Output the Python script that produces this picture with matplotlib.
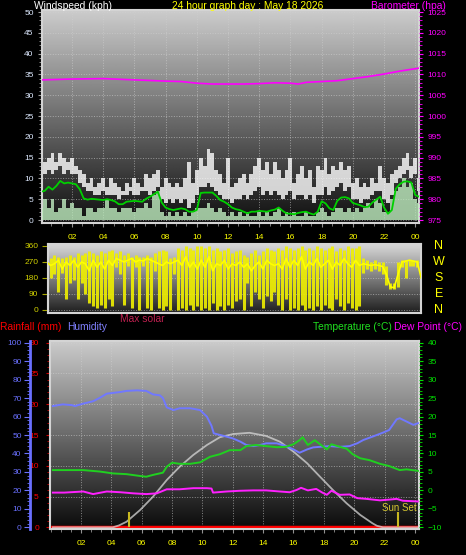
import numpy as np
import matplotlib
matplotlib.use('Agg')
import matplotlib.pyplot as plt
from matplotlib.ticker import MultipleLocator

plt.rcParams['font.family'] = ['Liberation Sans', 'DejaVu Sans']

# ---------------- data ----------------
# wind samples every 15 min (hours since 00:00)
t_wind = np.arange(0, 24.26, 0.25)

gust_hi = [13, 14, 15, 16, 14, 16, 15, 14, 15, 13,
           12, 11, 9, 10, 8, 9, 10, 8, 10, 9,
           8, 7, 9, 8, 10, 9, 8, 11, 10, 11,
           12, 8, 10, 9, 8, 9, 8, 10, 14, 9,
           12, 15, 13, 17, 16, 12, 11, 9, 15, 8,
           9, 10, 11, 9, 11, 13, 15, 12, 14, 11,
           14, 12, 10, 12, 15, 9, 11, 13, 10, 12,
           8, 13, 12, 15, 11, 13, 12, 14, 12, 13,
           9, 10, 8, 9, 8, 10, 9, 13, 10, 9,
           11, 12, 13, 15, 16, 13, 15, 10]
gust_lo = [11, 11, 12, 11, 12, 13, 11, 12, 11, 11,
           9, 8, 7, 7, 6, 6, 7, 6, 6, 6,
           5, 6, 6, 7, 6, 6, 7, 7, 6, 7,
           8, 5, 4, 5, 4, 5, 4, 5, 3, 4,
           6, 8, 8, 9, 8, 7, 6, 5, 5, 4,
           5, 5, 6, 5, 6, 7, 8, 6, 7, 6,
           7, 6, 5, 6, 7, 5, 6, 6, 5, 6,
           4, 6, 6, 8, 6, 7, 8, 9, 7, 8,
           5, 5, 4, 5, 5, 6, 7, 7, 5, 4,
           6, 9, 10, 11, 12, 10, 11, 7]
wind_speed = [3, 5, 3, 5, 2, 3, 5, 3, 4, 3,
              3, 1, 3, 3, 2, 3, 3, 5, 3, 3,
              2, 3, 3, 3, 2, 3, 3, 4, 3, 6,
              7, 2, 1, 2, 1, 2, 1, 2, 1, 2,
              3, 3, 3, 4, 3, 2, 3, 2, 1, 2,
              1, 2, 1, 2, 1, 1, 2, 1, 2, 1,
              2, 3, 1, 2, 1, 2, 1, 1, 2, 1,
              1, 2, 3, 2, 1, 2, 3, 3, 2, 3,
              2, 3, 2, 3, 4, 3, 5, 4, 2, 2,
              5, 7, 8, 10, 8, 9, 5, 4]
wind_avg = [6.8, 7.0, 8.0, 7.3, 8.2, 9.4, 8.8, 9.0, 8.8, 8.6,
            7.4, 5.2, 4.9, 5.1, 5.0, 4.9, 4.8, 5.0, 4.8, 4.5,
            3.8, 3.8, 4.4, 4.5, 4.6, 4.5, 4.4, 5.1, 5.6, 6.2,
            6.8, 4.2, 3.0, 2.6, 2.4, 2.6, 2.8, 2.6, 2.0, 2.0,
            2.4, 6.5, 6.6, 6.6, 6.6, 5.8, 4.8, 4.4, 3.8, 3.0,
            2.6, 2.4, 2.0, 1.6, 2.0, 2.0, 2.2, 2.1, 2.0, 2.3,
            2.5, 3.0, 2.2, 1.6, 1.5, 1.4, 1.7, 1.9, 2.0, 1.6,
            1.3, 2.0, 4.5, 4.0, 2.8, 2.4, 4.6, 5.4, 5.5, 5.2,
            4.1, 3.8, 3.5, 3.1, 3.2, 4.2, 4.9, 5.6, 3.0, 1.5,
            2.4, 7.5, 8.6, 9.2, 9.3, 9.0, 6.0, 5.6]

# wind direction (deg), spread per 15 min
dir_lo = [130, 180, 200, 100, 210, 60, 150, 170, 60, 150,
          90, 40, 20, 10, 30, 10, 60, 20, 240, 200,
          30, 250, 10, 240, 0, 250, 10, 0, 220, 10,
          0, 20, 0, 200, 0, 10, 0, 30, 0, 20,
          0, 10, 0, 40, 0, 20, 0, 30, 10, 50,
          60, 0, 150, 20, 100, 60, 10, 80, 50, 100,
          30, 0, 60, 0, 10, 0, 30, 0, 10, 0,
          20, 0, 30, 10, 0, 60, 20, 0, 40, 10,
          0, 20, 210, 230, 220, 230, 220, 200, 140, 120,
          120, 130, 240, 180, 250, 250, 240, 130]
dir_hi = [300, 290, 310, 300, 290, 300, 310, 300, 320, 310,
          320, 330, 320, 310, 330, 320, 330, 340, 320, 330,
          310, 320, 300, 310, 300, 300, 310, 300, 320, 330,
          340, 330, 290, 300, 350, 340, 360, 350, 340, 360,
          360, 350, 360, 340, 350, 330, 340, 350, 320, 330,
          340, 310, 300, 320, 340, 310, 330, 350, 340, 330,
          350, 340, 360, 350, 340, 350, 360, 340, 350, 340,
          360, 350, 340, 350, 360, 330, 350, 340, 360, 350,
          350, 360, 290, 280, 270, 280, 270, 270, 250, 150,
          150, 270, 280, 280, 280, 280, 280, 270]
dir_mid = [270, 250, 260, 280, 230, 270, 250, 280, 240, 270,
           260, 220, 280, 240, 270, 230, 280, 250, 290, 280,
           270, 280, 290, 270, 280, 275, 290, 280, 270, 260,
           250, 270, 260, 270, 280, 250, 300, 240, 270, 230,
           280, 240, 300, 220, 260, 250, 280, 230, 260, 250,
           270, 240, 260, 220, 250, 270, 230, 280, 260, 250,
           260, 230, 290, 240, 280, 250, 300, 230, 270, 250,
           290, 240, 260, 280, 230, 270, 250, 290, 260, 240,
           280, 250, 260, 255, 250, 255, 250, 245, 200, 130,
           125, 200, 270, 275, 280, 275, 270, 180]

baro_t = [0.1, 2, 4, 6, 8, 9, 10, 11, 12, 13, 14, 15, 16, 16.5, 17, 18, 19, 20, 21, 22, 23, 24.2]
baro = [1008.7, 1008.9, 1009.0, 1008.7, 1008.4, 1008.3, 1007.9, 1007.7, 1007.7, 1007.7, 1007.8,
        1008.0, 1007.9, 1007.7, 1008.1, 1008.3, 1008.5, 1009.0, 1009.5, 1010.1, 1010.8, 1011.5]

hum_t = [0.15, 0.8, 1.4, 1.6, 2.15, 2.8, 3.25, 3.7, 4.1, 4.6, 5.0, 5.7, 6.3, 6.75, 7.2, 7.4, 7.65,
         8.1, 8.5, 9.2, 9.85, 10.3, 10.6, 10.75, 11.6, 12.0, 12.5, 12.9, 13.35, 13.8, 14.2, 14.9,
         15.5, 16.0, 16.4, 16.9, 17.3, 17.75, 18.4, 19.05, 19.7, 20.2, 20.6, 21.2, 21.9, 22.3,
         22.8, 23.0, 23.45, 23.9, 24.2]
humidity = [65.7, 66.6, 66.2, 65.7, 67.0, 68.3, 70.2, 72.4, 72.8, 73.3, 73.9, 74.2, 73.9, 72.0,
            71.5, 70.0, 65.0, 63.5, 64.5, 64.5, 63.5, 59.9, 55.0, 50.9, 49.1, 48.2, 46.4, 44.6,
            44.0, 44.6, 45.5, 45.5, 44.0, 42.2, 40.4, 42.2, 43.3, 43.6, 44.0, 43.6, 44.0, 45.5,
            47.3, 49.1, 51.3, 52.7, 58.5, 59.1, 57.3, 55.5, 56.4]

temp_t = [0.15, 0.9, 2.15, 3.25, 4.1, 5.0, 5.9, 6.3, 6.75, 7.4, 7.65, 8.0, 8.5, 9.2, 9.85, 10.5,
          11.15, 11.8, 12.5, 12.9, 13.55, 14.2, 14.9, 15.5, 16.0, 16.4, 16.6, 16.95, 17.4, 17.75,
          18.2, 18.5, 19.05, 19.5, 19.9, 20.4, 21.0, 21.7, 22.3, 23.0, 23.45, 24.2]
temperature = [5.5, 5.5, 5.5, 5.1, 4.6, 4.4, 3.9, 3.7, 4.2, 4.8, 6.4, 7.5, 7.2, 7.2, 7.6, 9.1,
               9.8, 10.9, 10.9, 12.0, 12.3, 12.0, 11.7, 11.8, 12.5, 13.6, 14.4, 12.3, 13.6, 12.5,
               11.1, 12.5, 11.8, 11.3, 9.8, 8.7, 8.2, 7.2, 6.6, 5.5, 5.7, 5.3]

dew_t = [0.15, 0.9, 2.15, 2.8, 3.7, 4.6, 5.45, 6.3, 7.0, 7.65, 8.5, 9.4, 10.3, 10.6, 10.7, 11.6,
         12.5, 13.35, 14.2, 15.1, 15.75, 16.2, 16.5, 16.95, 17.5, 17.9, 18.2, 18.5, 19.05, 19.7,
         20.2, 20.8, 21.7, 22.3, 22.8, 23.2, 24.2]
dewpoint = [-0.6, -0.6, -0.3, -1.0, -0.3, -0.5, -0.8, -1.0, -0.8, 0.3, 0.3, 0.6, 0.6, 0.5, -0.6,
            -0.3, -0.1, 0.0, 0.0, -0.3, -0.5, 0.1, 0.7, 0.0, 0.4, -0.6, -1.2, -0.1, -1.2, -1.1,
            -2.1, -2.3, -2.7, -2.5, -2.3, -2.8, -3.0]

# max solar, drawn on the humidity scale
solar_t = [0.15, 4.1, 4.5, 5.0, 5.9, 6.75, 7.65, 8.5, 9.4, 10.3, 11.15, 12.0, 13.1, 14.2, 15.1,
           16.0, 16.9, 17.75, 18.6, 19.5, 20.4, 21.2, 21.5, 21.9, 24.2]
max_solar = [0, 0, 1, 3, 9.4, 16.6, 25.6, 32.8, 39.2, 44.6, 48.8, 50.5, 51.2, 49.5, 46.4,
             41.0, 34.7, 27.4, 20.2, 13.0, 6.7, 2.2, 0.8, 0, 0]

rain_t = [0.0, 24.25]
rain = [0.0, 0.0]

sunrise = 5.16
sunset = 22.87

hour_ticks = list(range(2, 25, 2))
hour_labels = ['%02d' % (h % 24) for h in hour_ticks]

# ---------------- figure ----------------
W, H = 466, 555
fig = plt.figure(figsize=(W / 100, H / 100), dpi=100, facecolor='black')


def box(l, t, r, b):
    return [l / W, 1 - b / H, (r - l) / W, (b - t) / H]


def background(ax, top, bottom):
    g = np.linspace(top, bottom, 256).reshape(-1, 1)
    ax.imshow(g, cmap='gray', vmin=0, vmax=1, aspect='auto', extent=[0, 1, 0, 1],
              transform=ax.transAxes, zorder=0, interpolation='bilinear')


def frame(ax):
    for s in ax.spines.values():
        s.set_color('#d4d4d4')
        s.set_linewidth(1.5)


# ---- panel 1 : wind speed + barometer ----
ax1 = fig.add_axes(box(42, 10, 419, 223))
background(ax1, 0.80, 0.06)
ax1.fill_between(t_wind, gust_lo, gust_hi, step='mid', color='white', alpha=0.8, lw=0, zorder=2)
ax1.fill_between(t_wind, 0, wind_speed, step='mid', color='#c0eec0', alpha=0.8, lw=0, zorder=3)
ax1.plot(t_wind, wind_avg, color='#00d000', lw=1.3, zorder=4)
ax1.set_xlim(0.08, 24.24)
ax1.set_ylim(-0.72, 50.5)
ax1.set_xticks(hour_ticks)
ax1.set_xticklabels(hour_labels)
ax1.xaxis.set_minor_locator(MultipleLocator(2 / 3))
ax1.yaxis.set_major_locator(MultipleLocator(5))
ax1.yaxis.set_minor_locator(MultipleLocator(1))
ax1.grid(True, color='#d0d0d0', ls=':', lw=0.7, alpha=0.6, zorder=1)
ax1.tick_params(axis='y', which='both', colors='#a0a0a0', labelcolor='#dde9ff', labelsize=6, length=3, pad=3)
ax1.tick_params(axis='y', which='minor', length=2)
ax1.tick_params(axis='x', which='both', colors='#909090', labelcolor='yellow', labelsize=6, length=3, pad=5)
ax1.tick_params(axis='x', which='minor', length=2)
frame(ax1)

ax1b = ax1.twinx()
ax1b.plot(baro_t, baro, color='#ff00ff', lw=1.2)
ax1b.set_ylim(974.28, 1025.5)
ax1b.yaxis.set_major_locator(MultipleLocator(5))
ax1b.yaxis.set_minor_locator(MultipleLocator(1))
ax1b.tick_params(axis='y', which='both', colors='#ff00ff', labelcolor='#ff00ff', labelsize=6, length=3, pad=3)
ax1b.tick_params(axis='y', which='minor', length=2)
for s in ax1b.spines.values():
    s.set_visible(False)

# ---- panel 2 : wind direction ----
ax2 = fig.add_axes(box(48, 244, 421, 313))
background(ax2, 0.85, 0.12)
ax2.vlines(t_wind, dir_lo, dir_hi, color='#f0f000', lw=2.2, alpha=0.9, zorder=2)
ax2.plot(t_wind, dir_mid, color='yellow', lw=1.2, zorder=3)
ax2.set_xlim(0.08, 24.24)
ax2.set_ylim(-17, 371)
ax2.set_yticks([0, 90, 180, 270, 360])
ax2.set_xticks([])
ax2.grid(True, axis='y', color='#d0d0d0', ls=':', lw=0.7, alpha=0.6, zorder=1)
ax2.tick_params(axis='y', colors='#a8a800', labelcolor='#d0d000', labelsize=6, length=4, pad=3)
frame(ax2)
for val, letter in zip([360, 270, 180, 90, 0], 'NWSEN'):
    ax2.text(1.048, val, letter, transform=ax2.get_yaxis_transform(), color='yellow',
             fontsize=9, ha='center', va='center')

# ---- titles / legends ----
fs = 7.4
fig.text(34 / W, 1 - 6 / H, 'Windspeed (kph)', color='white', fontsize=fs, va='center')
fig.text(172 / W, 1 - 6 / H, '24 hour graph day : May 18 2026', color='yellow', fontsize=fs, va='center')
fig.text(371 / W, 1 - 6 / H, 'Barometer (hpa)', color='#ff00ff', fontsize=fs, va='center')
fig.text(0, 1 - 327 / H, 'Rainfall (mm)', color='red', fontsize=fs, va='center')
fig.text(67 / W, 1 - 327 / H, 'Humidity', color='#8080ff', fontsize=fs, va='center')
fig.text(120 / W, 1 - 319 / H, 'Max solar', color='#c02050', fontsize=fs, va='center')
fig.text(313 / W, 1 - 327 / H, 'Temperature (\u00b0C)', color='#20e020', fontsize=fs, va='center')
fig.text(394 / W, 1 - 327 / H, 'Dew Point (\u00b0C)', color='#ff00ff', fontsize=fs, va='center')

# ---- panel 3 : rain / humidity / solar / temperature / dew point ----
ax3 = fig.add_axes(box(50, 340.7, 419, 529))
background(ax3, 0.80, 0.04)
ax3.plot(rain_t, rain, color='red', lw=2.5, zorder=2)
ax3.set_xlim(-0.04, 24.27)
ax3.set_ylim(-0.28, 30.33)
ax3.set_xticks(hour_ticks)
ax3.set_xticklabels(hour_labels)
ax3.xaxis.set_minor_locator(MultipleLocator(2 / 3))
ax3.yaxis.set_major_locator(MultipleLocator(5))
ax3.yaxis.set_minor_locator(MultipleLocator(1))
ax3.grid(True, color='#d0d0d0', ls=':', lw=0.7, alpha=0.6, zorder=1)
ax3.tick_params(axis='y', which='both', colors='#d00000', labelcolor='red', labelsize=6, length=3, pad=5)
ax3.tick_params(axis='y', which='minor', length=2)
ax3.tick_params(axis='x', which='both', colors='#909090', labelcolor='yellow', labelsize=6, length=3, pad=5)
ax3.tick_params(axis='x', which='minor', length=2)
frame(ax3)

axh = ax3.twinx()
axh.plot(solar_t, max_solar, color='#d8d8d8', lw=1.3, alpha=0.75)
axh.plot(hum_t, humidity, color='#7078ff', lw=1.4)
axh.vlines([sunrise, sunset], 0, 8.5, color='#c8b820', lw=1.5)
axh.text(21.8, 10.6, 'Sun Set', color='#d8c830', fontsize=7, va='center')
axh.set_ylim(-0.92, 101.1)
axh.yaxis.set_ticks_position('left')
axh.spines['left'].set_visible(True)
axh.spines['left'].set_position(('outward', 14.4))
axh.spines['left'].set_color('#6a70ff')
axh.spines['left'].set_linewidth(2)
for k in ['right', 'top', 'bottom']:
    axh.spines[k].set_visible(False)
axh.yaxis.set_major_locator(MultipleLocator(10))
axh.yaxis.set_minor_locator(MultipleLocator(2))
axh.tick_params(axis='y', which='both', colors='#6a70ff', labelcolor='#6a70ff', labelsize=6, length=4, pad=2)
axh.tick_params(axis='y', which='minor', length=2)

axt = ax3.twinx()
axt.plot(temp_t, temperature, color='#20d020', lw=1.4)
axt.plot(dew_t, dewpoint, color='#ff20ff', lw=1.4)
axt.set_ylim(-10.46, 40.55)
axt.yaxis.set_major_locator(MultipleLocator(5))
axt.yaxis.set_minor_locator(MultipleLocator(1))
axt.tick_params(axis='y', which='both', colors='#00e000', labelcolor='#00e000', labelsize=6, length=3, pad=3)
axt.tick_params(axis='y', which='minor', length=2)
for s in axt.spines.values():
    s.set_visible(False)

fig.savefig('out.png', dpi=100, facecolor='black')
